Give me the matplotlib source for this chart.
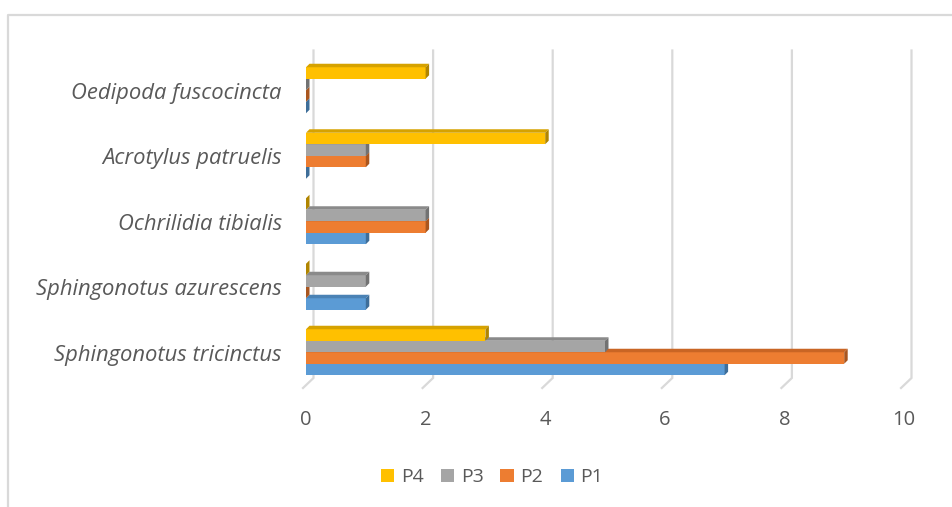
import numpy as np
import matplotlib
matplotlib.use("Agg")
import matplotlib.pyplot as plt
from matplotlib.patches import Polygon, Patch
from matplotlib.lines import Line2D

# Species counts per sampling plot (P1..P4)
species = [
    "Sphingonotus tricinctus",
    "Sphingonotus azurescens",
    "Ochrilidia tibialis",
    "Acrotylus patruelis",
    "Oedipoda fuscocincta",
]
series = ["P1", "P2", "P3", "P4"]
p1 = [7, 1, 1, 0, 0]
p2 = [9, 0, 2, 1, 0]
p3 = [5, 1, 2, 1, 0]
p4 = [3, 0, 0, 4, 2]
x_ticks = [0, 2, 4, 6, 8, 10]

# face colours: front, top, side
colors = {
    "P1": ("#5B9BD5", "#4A82B5", "#3E6E99"),
    "P2": ("#ED7D31", "#C96524", "#A9561F"),
    "P3": ("#A5A5A5", "#8A8A8A", "#727272"),
    "P4": ("#FFC000", "#D6A200", "#B08500"),
}

plt.rcParams["font.family"] = ["Open Sans", "DejaVu Sans"]
TXT = "#595959"
GRID = "#D9D9D9"

W, H, DPI = 953, 507, 100
fig = plt.figure(figsize=(W / DPI, H / DPI), dpi=DPI)

# front plane of the 3-D box, in pixels
fx0, fx1 = 303, 901
fy_top, fy_bot = 60.5, 388
ax = fig.add_axes([fx0 / W, 1 - fy_bot / H, (fx1 - fx0) / W, (fy_bot - fy_top) / H])
ax.set_xlim(0, 10)
ax.set_ylim(-0.5, len(species) - 0.5)
ax.axis("off")

ux = (fx1 - fx0) / 10.0
uy = (fy_bot - fy_top) / len(species)


def px(dx, dy):
    """Convert a pixel offset into data units."""
    return dx / ux, dy / uy


# back wall gridlines with the short floor segment toward the front
bdx, bdy = px(10.5, 10)
for v in x_ticks:
    ax.plot([v + bdx, v + bdx, v], [len(species) - 0.5 + bdy, -0.5 + bdy, -0.5],
            color=GRID, lw=1.6, clip_on=False, zorder=1, solid_joinstyle="miter")

# 3-D bars
ypos = np.arange(len(species))
h = 11.5 / uy
fdx, fdy = px(3, 3)
ddx, ddy = px(3.5, 3.5)
values = [p1, p2, p3, p4]
for j, (name, vals) in enumerate(zip(series, values)):
    front, top, side = colors[name]
    yc = ypos + (j - 1.5) * h + fdy
    z = 3 + j
    ax.barh(yc, vals, height=h, left=fdx, color=front, zorder=z, clip_on=False)
    for y, v in zip(yc, vals):
        yb, yt = y - h / 2, y + h / 2
        x_end = fdx + v
        ax.add_patch(Polygon([(fdx, yt), (x_end, yt), (x_end + ddx, yt + ddy), (fdx + ddx, yt + ddy)],
                             closed=True, facecolor=top, edgecolor="none", zorder=z, clip_on=False))
        ax.add_patch(Polygon([(x_end, yb), (x_end + ddx, yb + ddy), (x_end + ddx, yt + ddy), (x_end, yt)],
                             closed=True, facecolor=side, edgecolor="none", zorder=z, clip_on=False))

# value axis labels
for v in x_ticks:
    ax.annotate(str(v), (v, -0.5), xytext=(3, -32), textcoords="offset pixels",
                ha="center", va="center", fontsize=14.5, color=TXT, annotation_clip=False)

# category labels
for i, name in enumerate(species):
    ax.annotate(name, (0, i), xytext=(-21, 0), textcoords="offset pixels",
                ha="right", va="center", fontsize=15.8, style="italic", color=TXT,
                annotation_clip=False)

# legend (reverse order, as in the stacked series)
handles = [Patch(facecolor=colors[s][0], edgecolor="none") for s in reversed(series)]
fig.legend(handles, list(reversed(series)), loc="center", ncol=4, frameon=False,
           bbox_to_anchor=(492 / W, 1 - 477.5 / H), fontsize=14, labelcolor=TXT,
           handlelength=0.67, handleheight=0.67, handletextpad=0.36, columnspacing=0.88)

# chart area border (top and left edges)
fig.add_artist(Line2D([8.5 / W, 8.5 / W, 1.0], [0.0, 1 - 14.5 / H, 1 - 14.5 / H],
                      transform=fig.transFigure, color=GRID, lw=1.6))

fig.savefig("out.png", dpi=DPI)
